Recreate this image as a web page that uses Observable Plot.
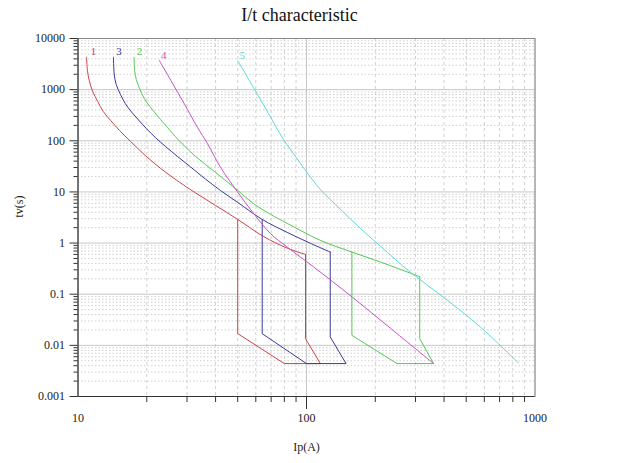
<!DOCTYPE html>
<html>
<head>
<meta charset="utf-8">
<script src="https://cdn.jsdelivr.net/npm/d3@7"></script>
<script src="https://cdn.jsdelivr.net/npm/@observablehq/plot@0.6"></script>
<style>
  html, body { margin: 0; padding: 0; background: #fff; }
  #chart svg { display: block; }
</style>
</head>
<body>
<div id="chart"></div>
<script>
// ---- tick values ----
const xMajor = [10, 100, 1000];
const xMinor = [20, 30, 40, 50, 60, 70, 80, 90, 200, 300, 400, 500, 600, 700, 800, 900];
const yMajor = [0.001, 0.01, 0.1, 1, 10, 100, 1000, 10000];
const yMinorMult = [2, 3, 4, 5, 6, 7, 8, 9];
const yMinor = [];
yMajor.slice(0, -1).forEach(d => yMinorMult.forEach(k => yMinor.push(+(d * k).toPrecision(3))));

// ---- curve 1 (red) ----
const c1I = [10.9, 11.0, 11.2, 11.6, 12.2, 12.9, 13.9, 15.2, 17.0, 19.7, 23.0, 27.3, 32.7, 40.0, 50, 64.8, 82.6, 99];
const c1T = [4300, 2360, 1506, 918, 586, 373, 249, 159, 96.9, 51.6, 28.8, 16.4, 9.56, 5.45, 2.9, 1.35, 0.79, 0.6];
const b1I = [99, 99, 115, 80, 50, 50];
const b1T = [0.6, 0.0135, 0.0044, 0.0044, 0.017, 2.9];

// ---- curve 3 (blue) ----
const c3I = [14.3, 14.4, 14.7, 15.35, 16.1, 17.15, 18.4, 19.9, 21.8, 24.15, 27.25, 31.1, 36.1, 42.0, 50, 64, 82.3, 104, 127];
const c3T = [4300, 2035, 1258, 802, 535, 365, 255, 174, 116, 77.4, 49.4, 30.8, 17.9, 10.7, 6.24, 2.9, 1.62, 0.99, 0.667];
const b3I = [127, 127, 149, 100, 64, 64];
const b3T = [0.667, 0.0146, 0.0044, 0.0044, 0.0169, 2.9];

// ---- curve 2 (green) ----
const c2I = [17.6, 17.7, 18.0, 18.6, 19.5, 20.8, 22.3, 23.8, 27.7, 32.7, 40, 50, 58.8, 69.6, 82.3, 115, 158, 211, 313];
const c2T = [4300, 2360, 1575, 1051, 670, 447, 305, 218, 101, 49.4, 24, 10.7, 5.83, 3.64, 2.43, 1.13, 0.667, 0.425, 0.22];
const b2I = [313, 313, 360, 249, 158, 158];
const b2T = [0.22, 0.0135, 0.0044, 0.0044, 0.0157, 0.667];

// ---- curve 4 (magenta) ----
const c4I = [22.7, 25.5, 29.2, 33.3, 36.9, 42.0, 49.75, 58.8, 69.6, 82.3, 107.6, 158.5, 233, 360];
const c4T = [3700, 1506, 528, 184, 87.4, 30.5, 10.2, 3.75, 1.53, 0.835, 0.34, 0.088, 0.0216, 0.0044];

// ---- curve 5 (cyan) ----
const c5I = [50, 58.6, 68.2, 79.3, 89.5, 99, 115, 141, 172, 211, 285, 398, 578, 847];
const c5T = [3700, 1100, 341, 106, 49.4, 26.3, 11.2, 4.55, 1.94, 0.862, 0.268, 0.087, 0.0226, 0.0045];

// ---- curve labels ----
const labelText = ["1", "3", "2", "4", "5"];
const labelI = [11.7, 15.1, 18.6, 23.7, 52.3];
const labelT = [5500, 5500, 5500, 4634, 4634];
const colors = ["#c8464b", "#3a3a9a", "#55c855", "#c455c4", "#5cd8d8"];

const titleText = "I/t characteristic";
const xLabel = "Ip(A)";
const yLabel = "tv(s)";

function rows(I, T) { return I.map((v, i) => ({ I: v, t: T[i] })); }
const labels = labelText.map((s, i) => ({ s, I: labelI[i], t: labelT[i], c: colors[i] }));
const blank = () => "";

const smooth = (I, T, c) => Plot.line(rows(I, T), { x: "I", y: "t", stroke: c, strokeWidth: 1, curve: "catmull-rom" });
const straight = (I, T, c) => Plot.line(rows(I, T), { x: "I", y: "t", stroke: c, strokeWidth: 1 });

const chart = Plot.plot({
  width: 640,
  height: 463,
  marginLeft: 77.5,
  marginRight: 105.5,
  marginTop: 38,
  marginBottom: 67,
  style: { fontFamily: "'Liberation Serif', 'DejaVu Serif', serif", fontSize: "12px", background: "#fff", color: "#222" },
  x: { type: "log", domain: [10, 1000], axis: null },
  y: { type: "log", domain: [0.001, 10000], axis: null },
  marks: [
    Plot.ruleY(yMinor, { stroke: "#c4c4c4", strokeDasharray: "1.5,2", strokeWidth: 0.8 }),
    Plot.ruleX(xMinor, { stroke: "#c4c4c4", strokeDasharray: "3,3", strokeWidth: 0.8 }),
    Plot.ruleY(yMajor, { stroke: "#c8c8c8", strokeWidth: 1 }),
    Plot.ruleX(xMajor, { stroke: "#c8c8c8", strokeWidth: 1 }),
    Plot.frame({ stroke: "#888" }),
    Plot.ruleX([10], { stroke: "#333" }),
    Plot.ruleY([0.001], { stroke: "#333" }),
    Plot.axisY(yMinor, { anchor: "left", tickSize: 4, tickFormat: blank, label: null, stroke: "#333" }),
    Plot.axisY(yMajor, { anchor: "left", tickSize: 8, tickPadding: 5, tickFormat: d => String(d), label: null, stroke: "#333", fontSize: 12 }),
    Plot.axisX(xMinor, { anchor: "bottom", tickSize: 6, tickFormat: blank, label: null, stroke: "#333" }),
    Plot.axisX([100], { anchor: "bottom", tickSize: 13, tickFormat: blank, label: null, stroke: "#333" }),
    Plot.axisX(xMajor, { anchor: "bottom", tickSize: 0, tickPadding: 17, tickFormat: d => String(d), label: null, fontSize: 12 }),
    smooth(c1I, c1T, colors[0]),
    straight(b1I, b1T, colors[0]),
    smooth(c3I, c3T, colors[1]),
    straight(b3I, b3T, colors[1]),
    smooth(c2I, c2T, colors[2]),
    straight(b2I, b2T, colors[2]),
    smooth(c4I, c4T, colors[3]),
    smooth(c5I, c5T, colors[4]),
    Plot.text(labels, { x: "I", y: "t", text: "s", fill: "c", fontSize: 11 }),
    Plot.text([titleText], { frameAnchor: "top", dy: -30, dx: -7, fontSize: 18, fill: "#111" }),
    Plot.text([xLabel], { frameAnchor: "bottom", dy: 54, fontSize: 12, fill: "#222" }),
    Plot.text([yLabel], { frameAnchor: "left", dx: -59, rotate: -90, fontSize: 12, fill: "#222" })
  ]
});
document.getElementById("chart").appendChild(chart);
</script>
</body>
</html>
